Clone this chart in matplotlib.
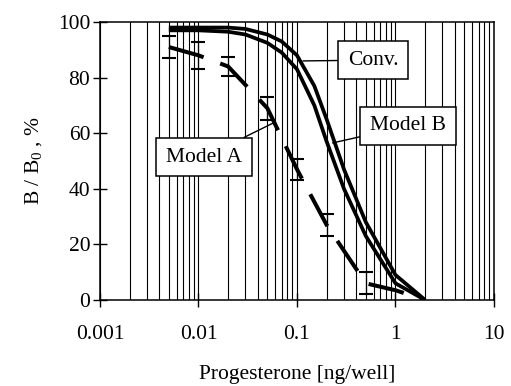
import matplotlib
matplotlib.use("Agg")
import matplotlib.pyplot as plt
from matplotlib.ticker import LogLocator, FixedLocator, NullFormatter

plt.rcParams['font.family'] = ['Liberation Serif', 'DejaVu Serif']
plt.rcParams['mathtext.default'] = 'regular'

# values (x in ng/well, y in % B/B0)
curve_dose = [0.005, 0.01, 0.02, 0.03, 0.05, 0.07, 0.1, 0.15, 0.2, 0.3, 0.5, 1, 2]
conv = [98, 98, 98, 97.5, 95.5, 93, 88, 77, 65, 47, 28, 9, 0]
model_b = [97, 97, 96.5, 95.5, 92.5, 89, 83, 70, 57, 40, 23, 6, 0]

dose_a = [0.005, 0.01, 0.02, 0.05, 0.1, 0.2, 0.5, 1, 2]
model_a = [91, 88, 84, 69, 47, 27, 6, 3.5, 0]
model_a_err = [3.8, 4.8, 3.3, 4.2, 3.7, 3.8, 3.9]

x_ticks = [0.001, 0.01, 0.1, 1, 10]
x_tick_labels = ['0.001', '0.01', '0.1', '1', '10']
y_ticks = [0, 20, 40, 60, 80, 100]

fig = plt.figure(figsize=(5.11, 3.86), dpi=100)
ax = fig.add_axes([0.1957, 0.2228, 0.771, 0.7202])

ax.set_xscale('log')
ax.set_xlim(0.001, 10)
ax.set_ylim(0, 100)

# vertical grid only, major + minor decades
ax.xaxis.set_major_locator(FixedLocator(x_ticks))
ax.xaxis.set_minor_locator(LogLocator(base=10, subs=range(2, 10)))
ax.xaxis.set_minor_formatter(NullFormatter())
ax.set_xticks(x_ticks)
ax.set_xticklabels(x_tick_labels)
ax.set_yticks(y_ticks)
ax.grid(True, which='both', axis='x', color='black', linewidth=0.8)
ax.set_axisbelow(True)

ax.tick_params(axis='both', which='major', direction='inout', length=10,
               width=1.0, labelsize=15.5, colors='black')
ax.tick_params(axis='x', which='major', pad=13)
ax.tick_params(axis='y', which='major', pad=2)
ax.tick_params(axis='x', which='minor', length=0)
for sp in ax.spines.values():
    sp.set_linewidth(1.1)
    sp.set_color('black')

# curves
ax.plot(curve_dose, conv, color='black', linewidth=2.7, solid_capstyle='butt', zorder=3)
ax.plot(curve_dose, model_b, color='black', linewidth=2.7, solid_capstyle='butt', zorder=3)
line_a, = ax.plot(dose_a, model_a, color='black', linewidth=2.9,
                  dash_capstyle='butt', zorder=3)
line_a.set_dashes((9, 4.4))
n_err = len(model_a_err)
ax.errorbar(dose_a[:n_err], model_a[:n_err], yerr=model_a_err, fmt='none',
            ecolor='black', elinewidth=0.9, capsize=5, capthick=1.5, zorder=3)

# labels
box = dict(boxstyle='square,pad=0.45', facecolor='white', edgecolor='black', linewidth=1.1)
arrow = dict(arrowstyle='-', color='black', linewidth=1.0, shrinkA=0, shrinkB=0)
ax.annotate('Conv.', xy=(0.115, 86), xytext=(0.59, 86.3), fontsize=15.5,
            ha='center', va='center', bbox=box, arrowprops=arrow, zorder=5)
ax.annotate('Model B', xy=(0.23, 56.5), xytext=(1.34, 62.6), fontsize=15.5,
            ha='center', va='center', bbox=box, arrowprops=arrow, zorder=5)
ax.annotate('Model A', xy=(0.06, 64), xytext=(0.0114, 51.4), fontsize=15.5,
            ha='center', va='center', bbox=box, arrowprops=arrow, zorder=5)

ax.set_xlabel('Progesterone [ng/well]', fontsize=15.5, labelpad=15)
ax.set_ylabel('B / B$_0$ , %', fontsize=15.5, labelpad=10)

fig.savefig('out.png', dpi=100, facecolor='white')
